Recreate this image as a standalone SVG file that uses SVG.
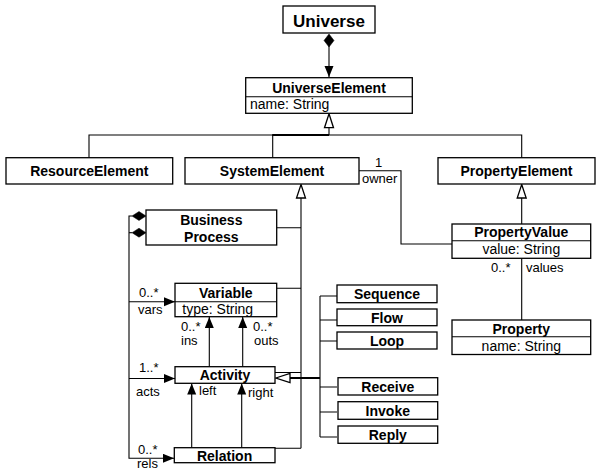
<svg xmlns="http://www.w3.org/2000/svg" width="602" height="473" viewBox="0 0 602 473">
<defs>
<style>
.box{fill:#fff;stroke:#000;stroke-width:1.3}
.ln{fill:none;stroke:#000;stroke-width:1.1}
.thk{fill:none;stroke:#000;stroke-width:2}
.t{font-family:"Liberation Sans",Arial,Helvetica,sans-serif;font-size:14px;font-weight:bold;text-anchor:middle;fill:#000}
.a{font-family:"Liberation Sans",Arial,Helvetica,sans-serif;font-size:14px;fill:#000}
.l{font-family:"Liberation Sans",Arial,Helvetica,sans-serif;font-size:13px;fill:#000}
.gen{fill:#fff;stroke:#000;stroke-width:1.3}
.dia{fill:#000;stroke:#000;stroke-width:0.5}
</style>
<marker id="arr" markerWidth="12" markerHeight="10" refX="11" refY="4.5" orient="auto" markerUnits="userSpaceOnUse">
<path d="M0,0 L11,4.5 L0,9 z" fill="#000"/>
</marker>
</defs>

<g id="connectors">
<path class="ln" d="M329,46 V77" marker-end="url(#arr)"/>
<polygon class="dia" points="329,34 334,40.5 329,47 324,40.5"/>
<path class="ln" d="M329,127.7 V135"/>
<path class="ln" d="M89,157.7 V135 H521.7 V158"/>
<path class="ln" d="M272.7,157.7 V135"/>
<path class="thk" d="M272.2,135 H329"/>
<polygon class="gen" points="329,113.8 333.5,127.7 324.5,127.7"/>
<path class="ln" d="M359,170.7 H401 V244 H452"/>
<path class="ln" d="M521.7,198 V224"/>
<polygon class="gen" points="521.7,184.5 526.2,198 517.2,198"/>
<path class="ln" d="M521.7,258.3 V320"/>
<path class="ln" d="M301,198 V448.3"/>
<path class="ln" d="M276.7,227.7 H301 M276.7,288.3 H301 M275,372.5 H301 M275,448.3 H301"/>
<polygon class="gen" points="301,184.5 305.5,198 296.5,198"/>
<path class="ln" d="M132,216 H129 V458.3 H174" marker-end="url(#arr)"/>
<path class="ln" d="M132,232.7 H129"/>
<path class="ln" d="M129,301.7 H175" marker-end="url(#arr)"/>
<path class="ln" d="M129,378.5 H175" marker-end="url(#arr)"/>
<polygon class="dia" points="132,216 139,211.5 146,216 139,220.5"/>
<polygon class="dia" points="132,232.7 139,228.2 146,232.7 139,237.2"/>
<path class="ln" d="M209.3,366.7 V317" marker-end="url(#arr)"/>
<path class="ln" d="M242.7,366.7 V317" marker-end="url(#arr)"/>
<path class="ln" d="M191.7,447.7 V383.5" marker-end="url(#arr)"/>
<path class="ln" d="M241.7,447.7 V383.5" marker-end="url(#arr)"/>
<path class="thk" d="M290,378 H320"/>
<path class="ln" d="M320,296 V437"/>
<path class="ln" d="M320,296 H337 M320,320 H337 M320,341 H337 M320,387 H337 M320,412 H337 M320,437 H337"/>
<polygon class="gen" points="275.8,378 290,373.5 290,382.5"/>
<text class="l" x="375" y="167">1</text>
<text class="l" x="362" y="183">owner</text>
<text class="l" x="491" y="272">0..*</text>
<text class="l" x="526" y="272">values</text>
<text class="l" x="139" y="297">0..*</text>
<text class="l" x="138" y="314">vars</text>
<text class="l" x="181" y="331">0..*</text>
<text class="l" x="181" y="345">ins</text>
<text class="l" x="253" y="331">0..*</text>
<text class="l" x="254" y="345">outs</text>
<text class="l" x="139" y="372">1..*</text>
<text class="l" x="136" y="396">acts</text>
<text class="l" x="199" y="395">left</text>
<text class="l" x="248" y="397">right</text>
<text class="l" x="138" y="454">0..*</text>
<text class="l" x="137" y="468">rels</text>
</g>

<g id="Universe">
<rect class="box" x="283" y="6" width="92" height="27"/>
<text class="t" x="329" y="27" style="font-size:17px">Universe</text>
</g>

<g id="UniverseElement">
<rect class="box" x="245.7" y="77.7" width="166.6" height="35.6"/>
<line class="ln" x1="245.7" y1="96.7" x2="412.3" y2="96.7"/>
<text class="t" x="329" y="93">UniverseElement</text>
<text class="a" x="250" y="109">name: String</text>
</g>

<g id="ResourceElement">
<rect class="box" x="6" y="157.7" width="166.7" height="26.3"/>
<text class="t" x="89.3" y="176">ResourceElement</text>
</g>

<g id="SystemElement">
<rect class="box" x="185" y="157.7" width="174" height="26.3"/>
<text class="t" x="272" y="176">SystemElement</text>
</g>

<g id="PropertyElement">
<rect class="box" x="438" y="157.7" width="157" height="26.3"/>
<text class="t" x="516.5" y="176">PropertyElement</text>
</g>

<g id="PropertyValue">
<rect class="box" x="452" y="224" width="138.7" height="34.3"/>
<line class="ln" x1="452" y1="240.7" x2="590.7" y2="240.7"/>
<text class="t" x="521.3" y="237">PropertyValue</text>
<text class="a" x="521.3" y="254" text-anchor="middle">value: String</text>
</g>

<g id="Property">
<rect class="box" x="452" y="320" width="138.7" height="34.5"/>
<line class="ln" x1="452" y1="336.7" x2="590.7" y2="336.7"/>
<text class="t" x="521.3" y="333.5">Property</text>
<text class="a" x="521.3" y="350.5" text-anchor="middle">name: String</text>
</g>

<g id="BusinessProcess">
<rect class="box" x="146" y="210" width="130.7" height="35"/>
<text class="t" x="211.3" y="225">Business</text>
<text class="t" x="211.3" y="241.5">Process</text>
</g>

<g id="Variable">
<rect class="box" x="175" y="283.3" width="101.7" height="33.4"/>
<line class="ln" x1="175" y1="301.7" x2="276.7" y2="301.7"/>
<text class="t" x="225.8" y="298">Variable</text>
<text class="a" x="182.3" y="314">type: String</text>
</g>

<g id="Activity">
<rect class="box" x="175" y="366.7" width="100" height="16.6"/>
<text class="t" x="225" y="380">Activity</text>
</g>

<g id="Relation">
<rect class="box" x="174.3" y="447.7" width="100.7" height="15"/>
<text class="t" x="224.6" y="460.5">Relation</text>
</g>

<g id="Sequence">
<rect class="box" x="337" y="285" width="100" height="17.7"/>
<text class="t" x="387" y="299">Sequence</text>
</g>
<g id="Flow">
<rect class="box" x="337" y="309" width="100" height="16.7"/>
<text class="t" x="387" y="322.5">Flow</text>
</g>
<g id="Loop">
<rect class="box" x="337" y="332" width="100" height="17"/>
<text class="t" x="387" y="345.5">Loop</text>
</g>
<g id="Receive">
<rect class="box" x="338" y="377.7" width="99.7" height="17.3"/>
<text class="t" x="387.8" y="391.5">Receive</text>
</g>
<g id="Invoke">
<rect class="box" x="338" y="401.7" width="99.7" height="17.6"/>
<text class="t" x="387.8" y="415.5">Invoke</text>
</g>
<g id="Reply">
<rect class="box" x="338" y="426" width="99.7" height="17.3"/>
<text class="t" x="387.8" y="440">Reply</text>
</g>
</svg>
